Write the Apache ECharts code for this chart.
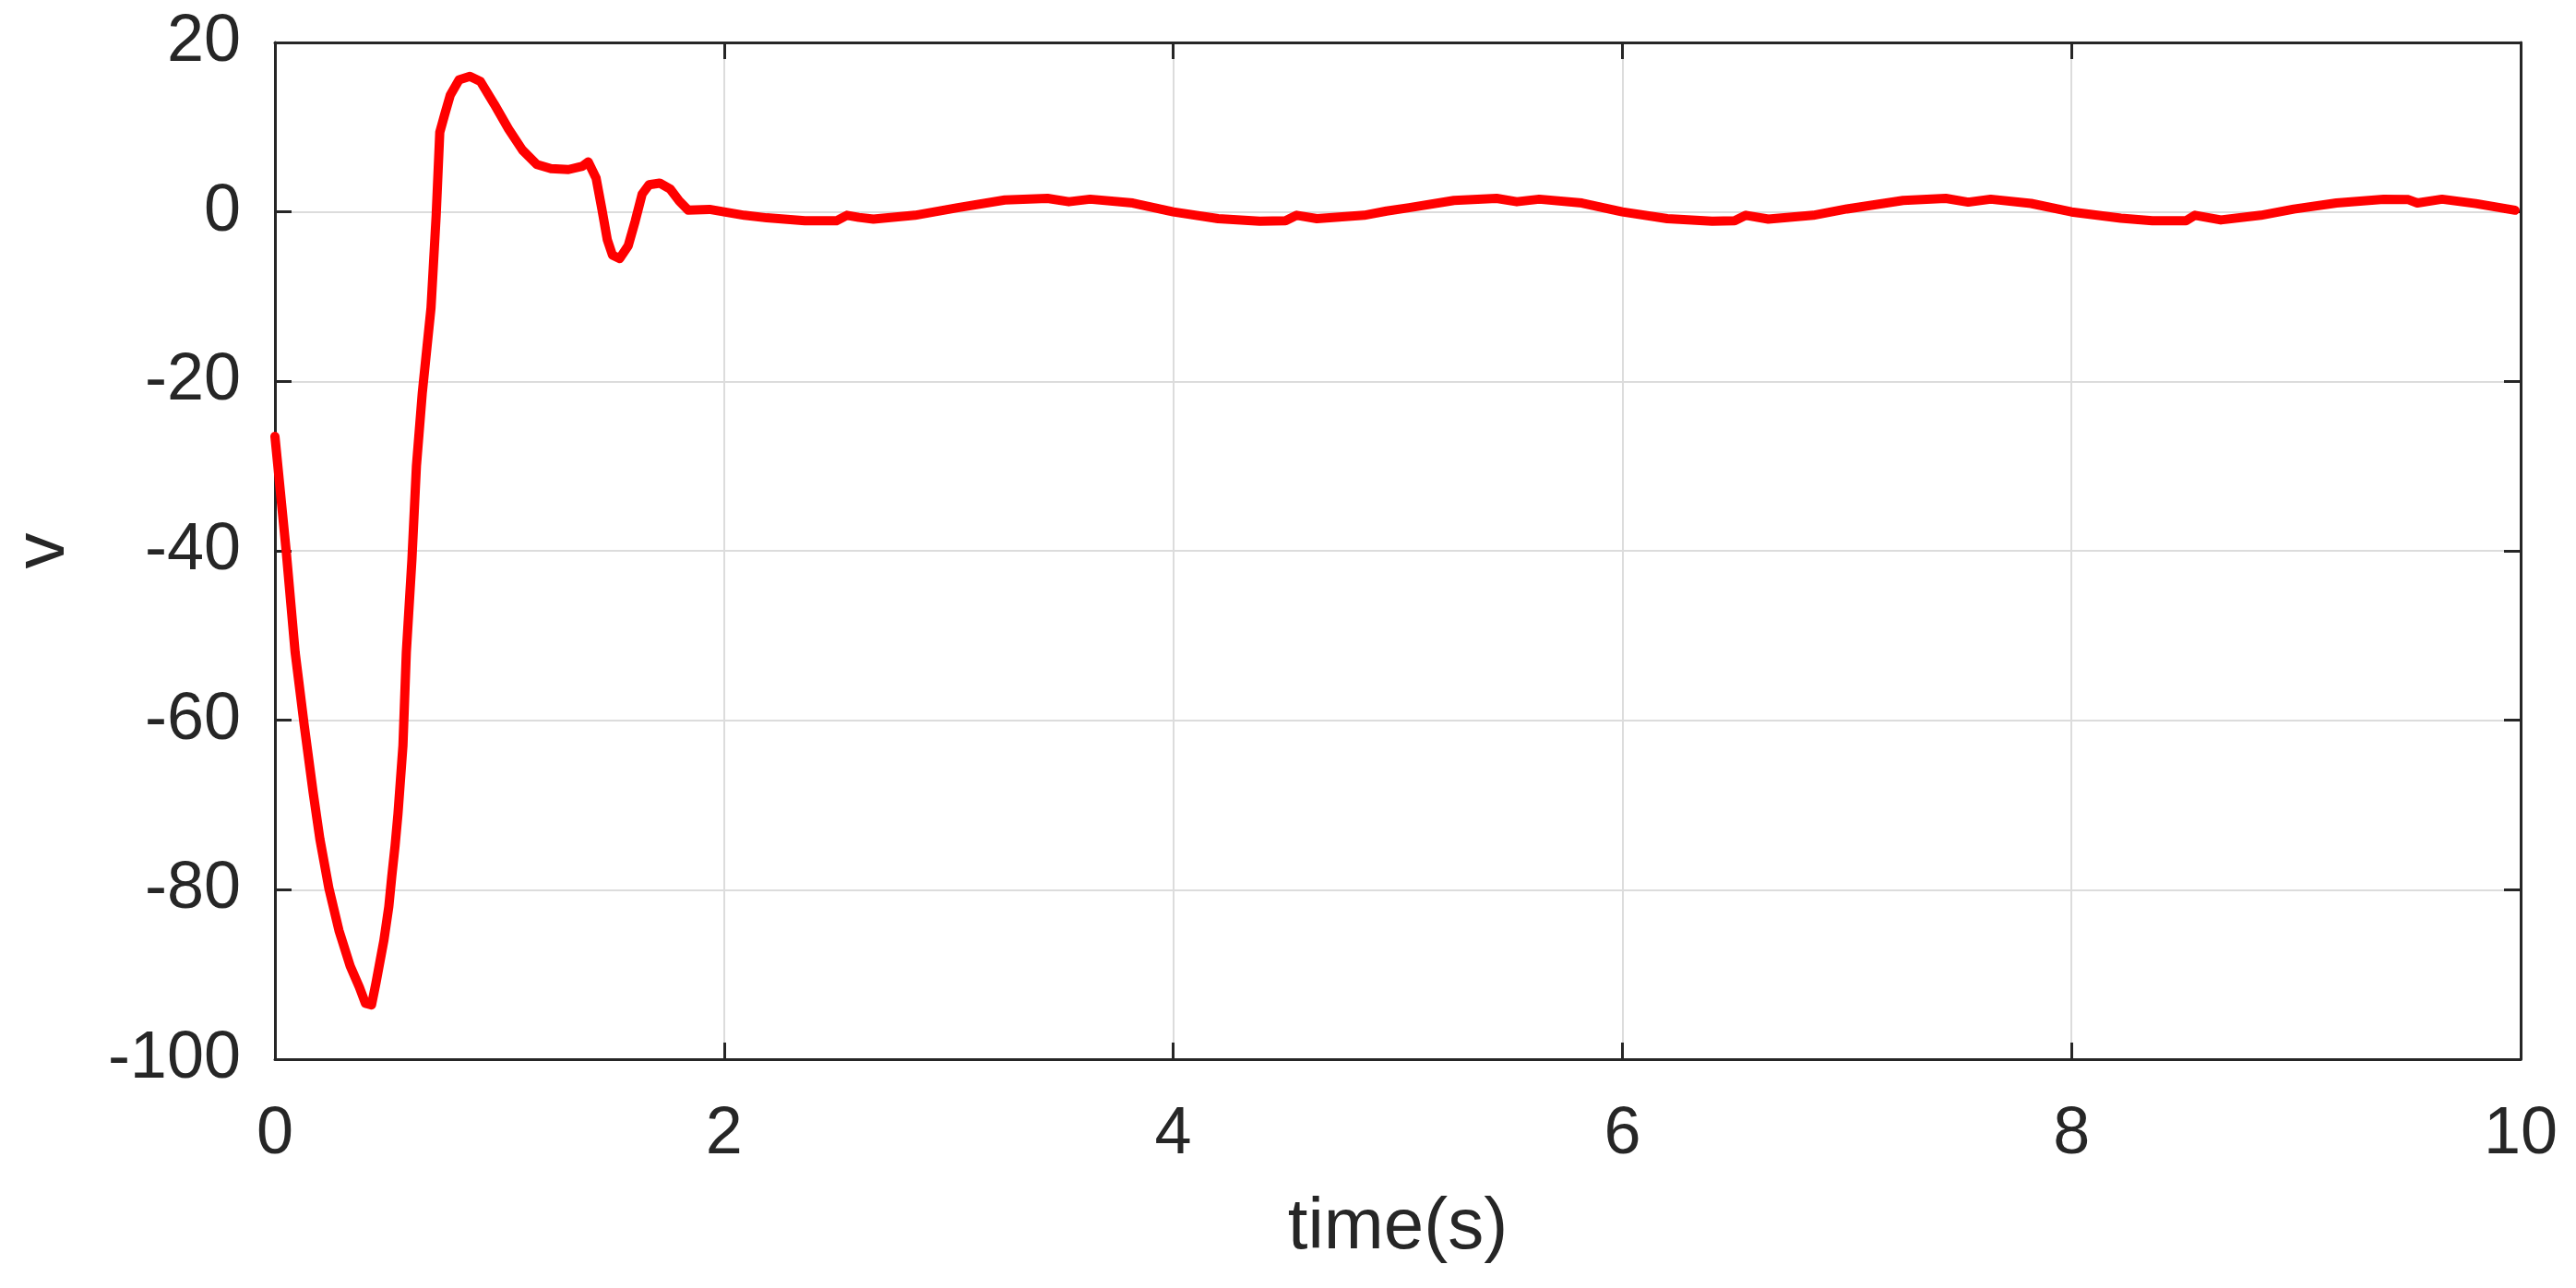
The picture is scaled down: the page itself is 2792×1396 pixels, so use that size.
<!DOCTYPE html>
<html>
<head>
<meta charset="utf-8">
<script src="https://cdn.jsdelivr.net/npm/echarts@6/dist/echarts.min.js"></script>
<style>
html,body{margin:0;padding:0;background:#fff;}
#chart{width:2792px;height:1396px;}
</style>
</head>
<body>
<div id="chart"></div>
<script>
// time (s)
var timeValues = [
  0, 0.05, 0.09, 0.13, 0.17, 0.2, 0.24, 0.285, 0.335, 0.376, 0.403, 0.43, 0.45, 0.485, 0.507, 0.52, 0.535, 0.548,
  0.57, 0.585, 0.61, 0.63, 0.656, 0.695, 0.718, 0.734, 0.757, 0.781, 0.82, 0.868, 0.915, 0.977, 1.04, 1.102, 1.166,
  1.229, 1.307, 1.37, 1.395, 1.43, 1.456, 1.48, 1.503, 1.535, 1.573, 1.604, 1.635, 1.666, 1.713, 1.76, 1.8, 1.84,
  1.935, 2.0, 2.09, 2.19, 2.36, 2.5, 2.547, 2.6, 2.665, 2.85, 3.04, 3.25, 3.44, 3.535, 3.63, 3.82,
  4.0, 4.2, 4.385, 4.5, 4.55, 4.64, 4.85, 4.95, 5.05, 5.25, 5.44, 5.53, 5.63, 5.82,
  6.0, 6.2, 6.4, 6.5, 6.55, 6.65, 6.85, 7.0, 7.25, 7.44, 7.54, 7.64, 7.82,
  8.0, 8.22, 8.36, 8.51, 8.55, 8.665, 8.843, 8.99, 9.18, 9.39, 9.5, 9.54, 9.65, 9.8, 9.945, 9.975
];
// v
var vValues = [
  -26.5, -40, -52, -60.5, -68.5, -74, -79.8, -84.8, -89, -91.5, -93.4, -93.6, -91, -86, -82, -78.5, -74.8, -71,
  -63, -52, -41, -30, -21.4, -11.3, -0.4, 9.4, 11.6, 13.8, 15.6, 16.0, 15.4, 12.7, 9.8, 7.3, 5.6,
  5.1, 5.0, 5.4, 5.9, 4.0, 0.3, -3.3, -5.1, -5.5, -4.0, -1.1, 2.1, 3.2, 3.4, 2.7, 1.3, 0.2,
  0.3, 0.0, -0.4, -0.7, -1.05, -1.05, -0.4, -0.65, -0.85, -0.4, 0.5, 1.4, 1.6, 1.2, 1.5, 1.05,
  0.0, -0.8, -1.1, -1.05, -0.4, -0.8, -0.4, 0.1, 0.5, 1.35, 1.6, 1.2, 1.5, 1.05,
  0.0, -0.8, -1.1, -1.05, -0.4, -0.85, -0.4, 0.35, 1.35, 1.6, 1.15, 1.5, 1.0,
  0.0, -0.75, -1.05, -1.05, -0.4, -0.95, -0.4, 0.33, 1.05, 1.5, 1.45, 1.05, 1.5, 0.98, 0.33, 0.2
];
var xTickLabels = ['0', '2', '4', '6', '8', '10'];
var yTickLabels = ['-100', '-80', '-60', '-40', '-20', '0', '20'];
var xName = 'time(s)';
var yName = 'v';

var seriesData = timeValues.map(function (t, i) { return [t, vValues[i]]; });

var axisColor = '#262626';
var fontFamily = '"Liberation Sans", Arial, Helvetica, sans-serif';

function baseAxis() {
  return {
    axisLine: { show: true, onZero: false, lineStyle: { color: axisColor, width: 3 } },
    axisTick: { show: true, inside: true, length: 18, lineStyle: { color: axisColor, width: 3 } },
    splitLine: { show: false },
    axisLabel: { show: false }
  };
}

var xMain = Object.assign(baseAxis(), {
  type: 'value', position: 'bottom', min: 0, max: 10, interval: 2,
  name: xName, nameLocation: 'middle', nameGap: 144,
  nameTextStyle: { fontSize: 78, color: axisColor, fontFamily: fontFamily },
  splitLine: { show: true, lineStyle: { color: '#dcdcdc', width: 2 } },
  axisLabel: {
    show: true, fontSize: 72, color: axisColor, fontFamily: fontFamily, margin: 46,
    formatter: function (v) { return xTickLabels[Math.round(v / 2)]; }
  }
});
var xTop = Object.assign(baseAxis(), { type: 'value', position: 'top', min: 0, max: 10, interval: 2 });

var yMain = Object.assign(baseAxis(), {
  type: 'value', position: 'left', min: -100, max: 20, interval: 20,
  name: yName, nameLocation: 'middle', nameGap: 212,
  nameTextStyle: { fontSize: 78, color: axisColor, fontFamily: fontFamily },
  splitLine: { show: true, lineStyle: { color: '#dcdcdc', width: 2 } },
  axisLabel: {
    show: true, fontSize: 72, color: axisColor, fontFamily: fontFamily, margin: 37,
    formatter: function (v) { return yTickLabels[Math.round((v + 100) / 20)]; }
  }
});
var yRight = Object.assign(baseAxis(), { type: 'value', position: 'right', min: -100, max: 20, interval: 20 });

var chart = echarts.init(document.getElementById('chart'), null, { renderer: 'canvas' });
chart.setOption({
  animation: false,
  backgroundColor: '#ffffff',
  grid: { left: 295, right: 60, top: 46, bottom: 248, containLabel: false },
  xAxis: [xMain, xTop],
  yAxis: [yMain, yRight],
  series: [{
    type: 'line',
    xAxisIndex: 0, yAxisIndex: 0,
    data: seriesData,
    showSymbol: false,
    symbol: 'none',
    smooth: false,
    lineStyle: { color: '#ff0000', width: 10, join: 'round', cap: 'round' },
    z: 3
  }]
});
</script>
</body>
</html>
